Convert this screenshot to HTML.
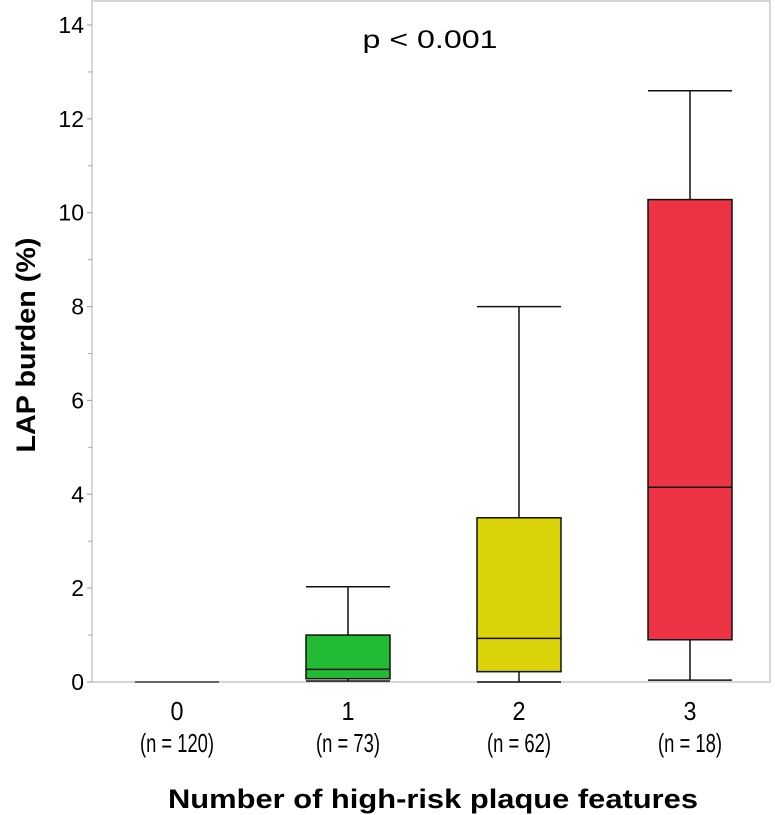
<!DOCTYPE html>
<html><head><meta charset="utf-8"><style>
html,body{margin:0;padding:0;background:#fff}
svg{display:block;font-family:"Liberation Sans",Arial,sans-serif}
</style></head><body>
<svg id="chart" width="775" height="815" viewBox="0 0 775 815" xmlns="http://www.w3.org/2000/svg">
<g id="frame"></g>
<g id="yaxis"></g>
<g id="boxes"></g>
<g id="xaxis"></g>
<text x="430" y="48" font-size="25" text-anchor="middle" textLength="135" lengthAdjust="spacingAndGlyphs">p &lt; 0.001</text>
<text transform="translate(35,345) rotate(-90)" font-size="27" font-weight="bold" text-anchor="middle" textLength="215" lengthAdjust="spacingAndGlyphs">LAP burden (%)</text>
<text x="433" y="808" font-size="27" font-weight="bold" text-anchor="middle" textLength="530" lengthAdjust="spacingAndGlyphs">Number of high-risk plaque features</text>
</svg>
<script>
const categories = ["0","1","2","3"];
const counts = ["(n = 120)","(n = 73)","(n = 62)","(n = 18)"];
const whiskerLow = [0, 0.02, 0, 0.04];
const q1 = [0, 0.07, 0.22, 0.9];
const median = [0, 0.27, 0.93, 4.15];
const q3 = [0, 1.0, 3.5, 10.28];
const whiskerHigh = [0, 2.03, 8.0, 12.6];
const colors = ["#888888","#22bb33","#dbd30a","#ee3344"];
const yTicks = [0,2,4,6,8,10,12,14];

const NS="http://www.w3.org/2000/svg";
const L=92,R=770,T=1,B=682;
const y=v=>B-(v/14)*(B-25);
const x=i=>177+i*171;
const HW=42;
function mk(tag,attrs,parent){const e=document.createElementNS(NS,tag);for(const k in attrs)e.setAttribute(k,attrs[k]);parent.appendChild(e);return e;}
const frame=document.getElementById('frame');
const fr=mk('rect',{x:L,y:T,width:R-L,height:B-T,fill:'none',stroke:'#c8c8c8','stroke-width':1.5},frame);


const ya=document.getElementById('yaxis');
yTicks.forEach(t=>{
  const tk=mk('line',{x1:L-5,x2:L,y1:y(t),y2:y(t),stroke:'#aaa','stroke-width':1.2},ya);
  
  
  const tl=mk('text',{x:L-8,y:y(t)+8,'font-size':23,'text-anchor':'end'},ya);
  tl.textContent=t;
  
  
  if(t<14){const m=mk('line',{x1:L-4,x2:L,y1:y(t+1),y2:y(t+1),stroke:'#aaa','stroke-width':1},ya);
  
  }
});
const bx=document.getElementById('boxes');
categories.forEach((c,i)=>{
  const g=mk('g',{},bx);
  
  
  const cx=x(i);
  if(q3[i]===q1[i]&&whiskerHigh[i]===whiskerLow[i]){
    const l=mk('line',{x1:cx-HW,x2:cx+HW,y1:y(median[i]),y2:y(median[i]),stroke:'#666','stroke-width':2},g);
    
    
    return;
  }
  const w1=mk('line',{x1:cx,x2:cx,y1:y(q3[i]),y2:y(whiskerHigh[i]),stroke:'#111','stroke-width':1.5},g);
  
  
  const w2=mk('line',{x1:cx,x2:cx,y1:y(q1[i]),y2:y(whiskerLow[i]),stroke:'#111','stroke-width':1.5},g);
  
  
  [whiskerHigh[i],whiskerLow[i]].forEach(v=>{
    const cp=mk('line',{x1:cx-HW,x2:cx+HW,y1:y(v),y2:y(v),stroke:'#111','stroke-width':1.5},g);
    
    
  });
  const r=mk('rect',{x:cx-HW,y:y(q3[i]),width:2*HW,height:y(q1[i])-y(q3[i]),fill:colors[i],stroke:'#111','stroke-width':1.5},g);
  
  
  const md=mk('line',{x1:cx-HW,x2:cx+HW,y1:y(median[i]),y2:y(median[i]),stroke:'#111','stroke-width':1.5},g);
  
  
});
const xa=document.getElementById('xaxis');
categories.forEach((c,i)=>{
  const t=mk('text',{x:x(i),y:720,'font-size':26,'text-anchor':'middle',textLength:13,lengthAdjust:'spacingAndGlyphs'},xa);
  t.textContent=c;
  
  
  const n=mk('text',{x:x(i),y:752,'font-size':26,'text-anchor':'middle',textLength:counts[i].length>8?74:64,lengthAdjust:'spacingAndGlyphs'},xa);
  n.textContent=counts[i];
  
  
});
</script>
</body></html>
